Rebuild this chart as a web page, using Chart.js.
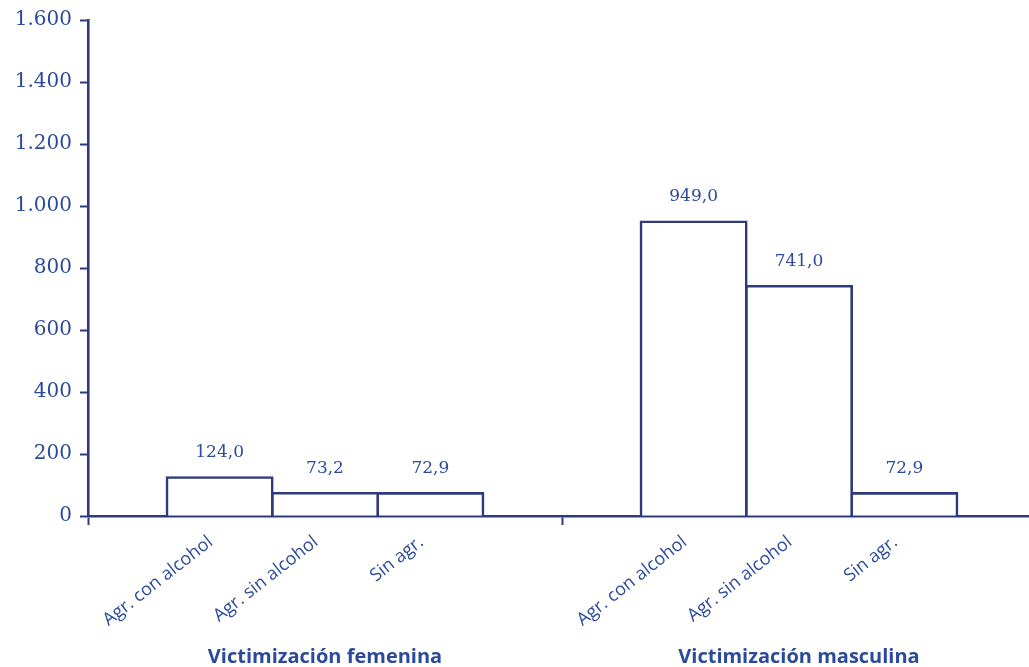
<!DOCTYPE html>
<html>
<head>
<meta charset="utf-8">
<script src="https://cdn.jsdelivr.net/npm/chart.js@4/dist/chart.umd.min.js"></script>
<style>
  html, body { margin: 0; padding: 0; background: #fff; overflow: hidden; }
  #wrap { position: relative; width: 1045px; height: 667px; }
</style>
</head>
<body>
<div id="wrap"><canvas id="grafico"></canvas></div>
<script>
// Datos del gráfico
const grupos = ['Victimización femenina', 'Victimización masculina'];
const subcategorias = ['Agr. con alcohol', 'Agr. sin alcohol', 'Sin agr.'];
const conAlcohol = [124.0, 949.0];
const sinAlcohol = [73.2, 741.0];
const sinAgresion = [72.9, 72.9];
const ticksY = [0, 200, 400, 600, 800, 1000, 1200, 1400, 1600];

const azulTexto = '#2b4a9b';
const azulLinea = '#2e3a7c';

// Formato español: 1.600 y 124,0
const miles = v => v.toString().replace(/\B(?=(\d{3})+(?!\d))/g, '.');
const decimal = v => v.toFixed(1).replace('.', ',');

// Etiquetas de valor y subcategorías rotadas bajo cada barra
const etiquetasPlugin = {
  id: 'etiquetas',
  afterDatasetsDraw(chart) {
    const ctx = chart.ctx;
    const fondo = chart.scales.y.bottom;
    chart.data.datasets.forEach((ds, i) => {
      const meta = chart.getDatasetMeta(i);
      meta.data.forEach((bar, j) => {
        ctx.save();
        ctx.fillStyle = azulTexto;
        ctx.font = '17px "DejaVu Serif"';
        ctx.textAlign = 'center';
        ctx.textBaseline = 'middle';
        ctx.fillText(decimal(ds.data[j]), bar.x, bar.y - 25);
        ctx.restore();

        ctx.save();
        ctx.fillStyle = azulTexto;
        ctx.font = '18px "Open Sans"';
        ctx.translate(bar.x - 9, fondo + 24);
        ctx.rotate(-38 * Math.PI / 180);
        ctx.textAlign = 'right';
        ctx.textBaseline = 'middle';
        ctx.fillText(subcategorias[i], 0, 0);
        ctx.restore();
      });
    });
  }
};

const ctx = document.getElementById('grafico').getContext('2d');

new Chart(ctx, {
  type: 'bar',
  data: {
    labels: grupos,
    datasets: [conAlcohol, sinAlcohol, sinAgresion].map((serie, i) => ({
      label: subcategorias[i],
      data: serie,
      backgroundColor: '#ffffff',
      borderColor: azulLinea,
      borderWidth: 2.6,
      borderSkipped: 'bottom',
      inflateAmount: 1.3,
      categoryPercentage: 0.667,
      barPercentage: 1.0
    }))
  },
  options: {
    responsive: true,
    maintainAspectRatio: false,
    animation: false,
    layout: { padding: { top: 20, right: 9, left: 0, bottom: 0 } },
    plugins: {
      legend: { display: false },
      tooltip: { enabled: false }
    },
    scales: {
      x: {
        offset: true,
        grid: {
          offset: true,
          drawOnChartArea: false,
          tickLength: 9,
          tickWidth: 2,
          color: azulLinea
        },
        border: { display: true, color: azulLinea, width: 2.6 },
        ticks: {
          color: azulTexto,
          font: { family: 'Open Sans', size: 20, weight: 'bold' },
          padding: 120,
          maxRotation: 0,
          autoSkip: false
        },
        afterFit(scale) { scale.height = 151; }
      },
      y: {
        min: 0,
        max: 1600,
        afterBuildTicks(scale) { scale.ticks = ticksY.map(v => ({ value: v })); },
        grid: {
          drawOnChartArea: false,
          tickLength: 8,
          tickWidth: 2,
          color: azulLinea
        },
        border: { display: true, color: azulLinea, width: 2.6 },
        ticks: {
          color: azulTexto,
          font: { family: 'DejaVu Serif', size: 20 },
          padding: 8,
          callback: v => miles(v)
        },
        afterFit(scale) { scale.width = 88; }
      }
    }
  },
  plugins: [etiquetasPlugin]
});
</script>
</body>
</html>
